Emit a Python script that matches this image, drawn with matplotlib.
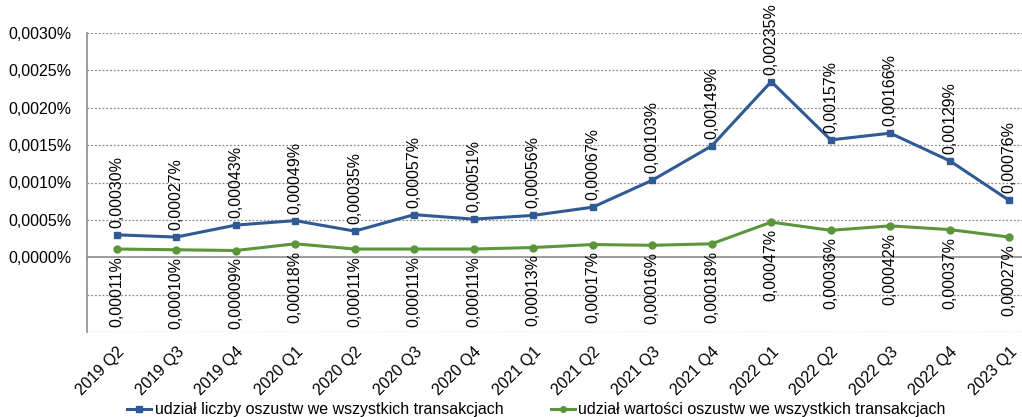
import numpy as np
import matplotlib
matplotlib.use('Agg')
import matplotlib.pyplot as plt
from matplotlib.ticker import FixedLocator, FuncFormatter

plt.rcParams['font.family'] = ['Liberation Sans', 'DejaVu Sans']
plt.rcParams['font.size'] = 11.5

quarters = ['2019 Q2', '2019 Q3', '2019 Q4', '2020 Q1', '2020 Q2', '2020 Q3',
            '2020 Q4', '2021 Q1', '2021 Q2', '2021 Q3', '2021 Q4', '2022 Q1',
            '2022 Q2', '2022 Q3', '2022 Q4', '2023 Q1']
# udział liczby oszustw (%)
count_share = [0.00030, 0.00027, 0.00043, 0.00049, 0.00035, 0.00057, 0.00051,
               0.00056, 0.00067, 0.00103, 0.00149, 0.00235, 0.00157, 0.00166,
               0.00129, 0.00076]
# udział wartości oszustw (%)
value_share = [0.00011, 0.00010, 0.00009, 0.00018, 0.00011, 0.00011, 0.00011,
               0.00013, 0.00017, 0.00016, 0.00018, 0.00047, 0.00036, 0.00042,
               0.00037, 0.00027]
series_names = ['udział liczby oszustw we wszystkich transakcjach',
                'udział wartości oszustw we wszystkich transakcjach']

blue = '#2F5A94'
green = '#5C963B'

W, H = 1022, 417
fig = plt.figure(figsize=(W / 100, H / 100), dpi=100)
ax = fig.add_axes([87 / W, 1 - 332 / H, (1039 - 87) / W, (332 - 33) / H])

x = np.arange(len(quarters))
ax.plot(x, count_share, color=blue, lw=2.2, marker='s', ms=5, label=series_names[0], zorder=3)
ax.plot(x, value_share, color=green, lw=2.2, marker='o', ms=5, label=series_names[1], zorder=3)

def pl(v):
    return '{:.5f}%'.format(v).replace('.', ',')

for xi, v in zip(x, count_share):
    ax.annotate(pl(v), (xi, v), xytext=(0, 5), textcoords='offset points',
                rotation=90, ha='center', va='bottom', color='black')
for xi, v in zip(x, value_share):
    ax.annotate(pl(v), (xi, v), xytext=(0, -5), textcoords='offset points',
                rotation=90, ha='center', va='top', color='black')

ax.set_xlim(-0.5, len(quarters) - 0.5)
ax.set_ylim(-0.0010, 0.0030)
grid_vals = np.arange(-0.0010, 0.00301, 0.0005)
for g in grid_vals:
    if abs(g) < 1e-9:
        ax.axhline(0, color='#8c8c8c', lw=1.2, zorder=2)
    else:
        ax.axhline(g, color='#8c8c8c', lw=0.9, ls=(0, (1.5, 1.5)), zorder=1)

ax.yaxis.set_major_locator(FixedLocator(np.arange(0, 0.00301, 0.0005)))
ax.yaxis.set_major_formatter(FuncFormatter(lambda v, p: '{:.4f}%'.format(v).replace('.', ',')))
ax.tick_params(axis='y', length=0, pad=11)

ax.set_xticks(x)
ax.set_xticklabels(quarters, rotation=45, ha='right', va='top', rotation_mode='anchor')
ax.tick_params(axis='x', length=0, pad=9)

for s in ['top', 'right', 'bottom']:
    ax.spines[s].set_visible(False)
ax.spines['left'].set_color('#8c8c8c')
ax.spines['left'].set_linewidth(1.2)

fig.legend(loc='lower center', bbox_to_anchor=(0.525, -0.035), ncol=2, frameon=False,
           handlelength=1.5, handletextpad=0.2, columnspacing=3.0,
           markerscale=0.8)

fig.savefig('out.png', dpi=100)
